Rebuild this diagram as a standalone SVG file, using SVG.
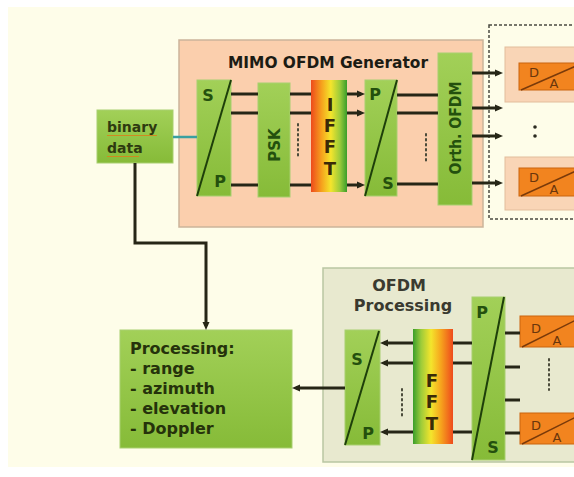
<svg xmlns="http://www.w3.org/2000/svg" width="574" height="477" viewBox="0 0 574 477">
<defs>
<linearGradient id="gGreen" x1="0" y1="0" x2="0" y2="1">
<stop offset="0" stop-color="#a2d058"/><stop offset="1" stop-color="#86bb38"/>
</linearGradient>
<linearGradient id="gIfft" x1="0" y1="0" x2="1" y2="0">
<stop offset="0" stop-color="#ee4a1c"/><stop offset="0.3" stop-color="#f6a31d"/><stop offset="0.55" stop-color="#f4e52c"/><stop offset="0.8" stop-color="#9ccb3a"/><stop offset="1" stop-color="#3a9e2a"/>
</linearGradient>
<linearGradient id="gFft" x1="0" y1="0" x2="1" y2="0">
<stop offset="0" stop-color="#3a9e2a"/><stop offset="0.2" stop-color="#9ccb3a"/><stop offset="0.45" stop-color="#f4e52c"/><stop offset="0.7" stop-color="#f6a31d"/><stop offset="1" stop-color="#ee4a1c"/>
</linearGradient>
<marker id="ah" markerUnits="userSpaceOnUse" markerWidth="9" markerHeight="8" refX="4" refY="4" orient="auto">
<path d="M0,0.5 L8,4 L0,7.5 z" fill="#262616"/>
</marker>
</defs>
<style>
.green{fill:url(#gGreen);stroke:#a8cf70;stroke-width:1}
.ln{stroke:#262616;stroke-width:3;fill:none}
.arr{stroke:#262616;stroke-width:3;fill:none;marker-end:url(#ah)}
.diag{stroke:#1e3f0a;stroke-width:2}
.dots{stroke:#4a4a3a;stroke-width:2;stroke-dasharray:1.5,3.5;stroke-linecap:round}
.t{font-family:"DejaVu Sans",sans-serif;font-weight:bold}
.lbl{fill:#24500e;font-size:16px}
.big{fill:#3a2a08;font-size:18px}
.orange{fill:#f2841f;stroke:#c9650f;stroke-width:1}
.da{fill:#6a360c;font-family:"DejaVu Sans",sans-serif;font-size:13px}
.dadiag{stroke:#7a3a0a;stroke-width:1.5}
.daout{fill:#f9d5b6;stroke:#e2bd9c;stroke-width:1}
</style>
<rect x="0" y="0" width="574" height="477" fill="#ffffff"/>
<rect x="8" y="7" width="566" height="460" fill="#fefde9"/>

<g id="generator">
<rect x="179" y="40" width="304" height="187" fill="#fbcfad" stroke="#cbb49a" stroke-width="1.5"/>
<text class="t" x="228" y="68" font-size="16" fill="#1c1c14" textLength="200" lengthAdjust="spacingAndGlyphs">MIMO OFDM Generator</text>
</g>

<g id="sp1">
<rect class="green" x="197" y="80" width="34" height="116"/>
<line class="diag" x1="231" y1="80" x2="197" y2="196"/>
<text class="t lbl" x="208" y="101" text-anchor="middle">S</text>
<text class="t lbl" x="220" y="187" text-anchor="middle">P</text>
</g>

<g id="psk">
<rect class="green" x="258" y="83" width="32" height="114"/>
<text class="t" x="0" y="0" font-size="15" fill="#24500e" text-anchor="middle" transform="translate(279.5,145) rotate(-90)">PSK</text>
</g>

<g id="ifft">
<rect x="311" y="80" width="36" height="112" fill="url(#gIfft)"/>
<text class="t big" x="330" y="111" text-anchor="middle">I</text>
<text class="t big" x="330" y="132" text-anchor="middle">F</text>
<text class="t big" x="330" y="153" text-anchor="middle">F</text>
<text class="t big" x="330" y="175" text-anchor="middle">T</text>
</g>

<g id="ps1">
<rect class="green" x="365" y="80" width="32" height="116"/>
<line class="diag" x1="397" y1="80" x2="365" y2="196"/>
<text class="t lbl" x="375" y="100" text-anchor="middle">P</text>
<text class="t lbl" x="388" y="189" text-anchor="middle">S</text>
</g>

<g id="orth">
<rect class="green" x="438" y="53" width="34" height="152"/>
<text class="t" x="0" y="0" font-size="15" fill="#24500e" text-anchor="middle" textLength="93" lengthAdjust="spacingAndGlyphs" transform="translate(460.5,128) rotate(-90)">Orth. OFDM</text>
</g>

<g id="dac">
<rect x="489" y="25" width="100" height="194" fill="none" stroke="#4a4a40" stroke-width="1.5" stroke-dasharray="3,2"/>
<rect class="daout" x="505" y="47" width="80" height="55"/>
<rect class="daout" x="505" y="157" width="80" height="53"/>
<rect class="orange" x="519" y="63" width="60" height="27"/>
<rect class="orange" x="519" y="168" width="60" height="28"/>
<text class="da" x="534" y="77" text-anchor="middle">D</text>
<text class="da" x="554" y="88" text-anchor="middle" font-size="14">A</text>
<line class="dadiag" x1="521" y1="90" x2="576" y2="66"/>
<text class="da" x="534" y="182" text-anchor="middle">D</text>
<text class="da" x="554" y="194" text-anchor="middle" font-size="14">A</text>
<line class="dadiag" x1="521" y1="196" x2="576" y2="171"/>
<circle cx="535" cy="127" r="1.8" fill="#2a2a20"/>
<circle cx="535" cy="136" r="1.8" fill="#2a2a20"/>
</g>

<g id="binary">
<rect class="green" x="97" y="110" width="76" height="53"/>
<text class="t" x="107" y="132" font-size="14" fill="#2e3a10">binary</text>
<text class="t" x="107" y="153" font-size="14" fill="#2e3a10">data</text>
<line x1="107" y1="135.5" x2="157" y2="135.5" stroke="#d08a20" stroke-width="1"/>
<line x1="107" y1="156.5" x2="139" y2="156.5" stroke="#d08a20" stroke-width="1"/>
</g>

<g id="processing">
<rect class="green" x="120" y="330" width="172" height="118"/>
<text class="t" font-size="16" fill="#25320b">
<tspan x="130" y="354">Processing:</tspan>
<tspan x="130" y="374">- range</tspan>
<tspan x="130" y="394">- azimuth</tspan>
<tspan x="130" y="414">- elevation</tspan>
<tspan x="130" y="434">- Doppler</tspan>
</text>
</g>

<g id="ofdmproc">
<rect x="323" y="268" width="260" height="194" fill="#e8e9cf" stroke="#b9c6a3" stroke-width="1.5"/>
<text class="t" x="399" y="291" font-size="16" fill="#3a3a30" text-anchor="middle">OFDM</text>
<text class="t" x="403" y="311" font-size="16" fill="#3a3a30" text-anchor="middle">Processing</text>
</g>

<g id="sp2">
<rect class="green" x="345" y="330" width="35" height="115"/>
<line class="diag" x1="379" y1="331" x2="345" y2="445"/>
<text class="t lbl" x="357" y="365" text-anchor="middle">S</text>
<text class="t lbl" x="368" y="439" text-anchor="middle">P</text>
</g>

<g id="fft">
<rect x="413" y="329" width="40" height="115" fill="url(#gFft)"/>
<text class="t big" x="432" y="387" text-anchor="middle">F</text>
<text class="t big" x="432" y="408" text-anchor="middle">F</text>
<text class="t big" x="432" y="430" text-anchor="middle">T</text>
</g>

<g id="ps2">
<rect class="green" x="472" y="297" width="33" height="163"/>
<line class="diag" x1="504" y1="297" x2="472" y2="460"/>
<text class="t lbl" x="482" y="318" text-anchor="middle">P</text>
<text class="t lbl" x="493" y="453" text-anchor="middle">S</text>
</g>

<g id="dar">
<rect class="orange" x="520" y="316" width="60" height="31"/>
<rect class="orange" x="520" y="413" width="60" height="31"/>
<text class="da" x="536" y="333" text-anchor="middle">D</text>
<text class="da" x="557" y="345" text-anchor="middle" font-size="14">A</text>
<line class="dadiag" x1="522" y1="347" x2="576" y2="320"/>
<text class="da" x="536" y="430" text-anchor="middle">D</text>
<text class="da" x="557" y="442" text-anchor="middle" font-size="14">A</text>
<line class="dadiag" x1="522" y1="444" x2="576" y2="417"/>
</g>

<g id="connectors">
<line x1="173" y1="137" x2="197" y2="137" stroke="#3aa0a0" stroke-width="2.5"/>
<line class="ln" x1="231" y1="94" x2="258" y2="94"/>
<line class="ln" x1="231" y1="113" x2="258" y2="113"/>
<line class="ln" x1="231" y1="185" x2="258" y2="185"/>
<line class="ln" x1="290" y1="94" x2="311" y2="94"/>
<line class="ln" x1="290" y1="113" x2="311" y2="113"/>
<line class="ln" x1="290" y1="185" x2="311" y2="185"/>
<line class="dots" x1="298" y1="124" x2="298" y2="157"/>
<line class="arr" x1="347" y1="94" x2="361" y2="94"/>
<line class="arr" x1="347" y1="113" x2="361" y2="113"/>
<line class="arr" x1="347" y1="185" x2="361" y2="185"/>
<line class="ln" x1="397" y1="95" x2="438" y2="95"/>
<line class="ln" x1="397" y1="113" x2="438" y2="113"/>
<line class="ln" x1="397" y1="184" x2="438" y2="184"/>
<line class="dots" x1="426" y1="134" x2="426" y2="163"/>
<line class="arr" x1="472" y1="73" x2="499" y2="73"/>
<line class="arr" x1="472" y1="108" x2="499" y2="108"/>
<line class="arr" x1="472" y1="136" x2="499" y2="136"/>
<line class="arr" x1="472" y1="183" x2="499" y2="183"/>
<polyline class="arr" points="135,163 135,243 206,243 206,326"/>
<line class="arr" x1="413" y1="343" x2="384" y2="343"/>
<line class="arr" x1="413" y1="363" x2="384" y2="363"/>
<line class="arr" x1="413" y1="432" x2="384" y2="432"/>
<line class="dots" x1="402" y1="389" x2="402" y2="417"/>
<line class="ln" x1="453" y1="343" x2="472" y2="343"/>
<line class="ln" x1="453" y1="363" x2="472" y2="363"/>
<line class="ln" x1="453" y1="432" x2="472" y2="432"/>
<line class="ln" x1="505" y1="333" x2="520" y2="333"/>
<line class="ln" x1="505" y1="367" x2="520" y2="367"/>
<line class="ln" x1="505" y1="400" x2="520" y2="400"/>
<line class="ln" x1="505" y1="433" x2="520" y2="433"/>
<line class="dots" x1="549" y1="359" x2="549" y2="390"/>
<line class="arr" x1="345" y1="388" x2="296" y2="388"/>
</g>
</svg>
